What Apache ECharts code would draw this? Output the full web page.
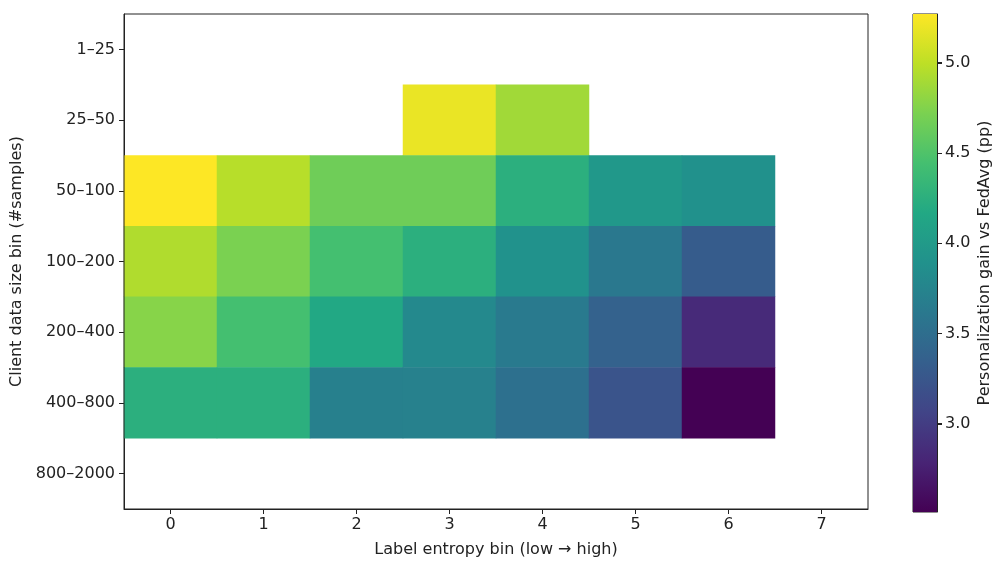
<!DOCTYPE html>
<html>
<head>
<meta charset="utf-8">
<script src="https://cdn.jsdelivr.net/npm/echarts@6/dist/echarts.min.js"></script>
<style>
html,body{margin:0;padding:0;background:#fff;}
#chart{width:994px;height:563px;}
</style>
</head>
<body>
<div id="chart"></div>
<script>
// ---- data ----
var xCategories = ['0', '1', '2', '3', '4', '5', '6', '7'];
var yCategories = ['1–25', '25–50', '50–100', '100–200', '200–400', '400–800', '800–2000'];
// one array per row (top to bottom), null = empty cell
var row_1_25     = [null, null, null, null, null, null, null, null];
var row_25_50    = [null, null, null, 5.19, 4.88, null, null, null];
var row_50_100   = [5.27, 4.97, 4.66, 4.66, 4.25, 3.97, 3.89, null];
var row_100_200  = [4.94, 4.72, 4.44, 4.25, 3.90, 3.61, 3.31, null];
var row_200_400  = [4.77, 4.44, 4.17, 3.80, 3.64, 3.37, 2.84, null];
var row_400_800  = [4.25, 4.25, 3.70, 3.71, 3.53, 3.23, 2.51, null];
var row_800_2000 = [null, null, null, null, null, null, null, null];
var colorMin = 2.51;
var colorMax = 5.27;
var colorbarTicks = [3.0, 3.5, 4.0, 4.5, 5.0];

var rows = [row_1_25, row_25_50, row_50_100, row_100_200, row_200_400, row_400_800, row_800_2000];
var heatData = [];
rows.forEach(function (r, yi) {
  r.forEach(function (v, xi) {
    if (v !== null) heatData.push([xi, yi, v]);
  });
});

var viridis = ['#440154','#482475','#414487','#355f8d','#2a788e','#21918c','#22a884','#44bf70','#7ad151','#bddf26','#fde725'];

var FONT = 'DejaVu Sans';
var TXT = '#222';
var FS = 16;

var chart = echarts.init(document.getElementById('chart'), null, {renderer: 'canvas'});
var option = {
  backgroundColor: '#fff',
  animation: false,
  textStyle: {fontFamily: FONT, color: TXT},
  grid: [
    {left: 124, right: 126, top: 14, bottom: 53, show: true, borderColor: '#222', borderWidth: 1, backgroundColor: 'transparent', z: 5},
    {left: 913, width: 26, top: 14, bottom: 51, show: true, borderColor: '#222', borderWidth: 1}
  ],
  xAxis: [
    {
      type: 'category', gridIndex: 0, data: xCategories,
      name: 'Label entropy bin (low → high)', nameLocation: 'middle', nameGap: 33,
      nameTextStyle: {fontSize: FS, color: TXT, fontFamily: FONT},
      axisLine: {show: true, lineStyle: {color: '#222'}},
      axisTick: {show: true, alignWithLabel: true, length: 5, lineStyle: {color: '#222'}},
      axisLabel: {fontSize: FS, color: TXT, margin: 8, fontFamily: FONT},
      splitLine: {show: false}, splitArea: {show: false}
    },
    {
      type: 'category', gridIndex: 1, data: [''],
      axisLine: {show: false}, axisTick: {show: false}, axisLabel: {show: false}
    }
  ],
  yAxis: [
    {
      type: 'category', gridIndex: 0, data: yCategories, inverse: true,
      name: 'Client data size bin (#samples)', nameLocation: 'middle', nameGap: 98, nameRotate: 90,
      nameTextStyle: {fontSize: FS, color: TXT, fontFamily: FONT},
      axisLine: {show: true, lineStyle: {color: '#222'}},
      axisTick: {show: true, alignWithLabel: true, length: 5, lineStyle: {color: '#222'}},
      axisLabel: {fontSize: FS, color: TXT, margin: 9, fontFamily: FONT},
      splitLine: {show: false}, splitArea: {show: false}
    },
    {
      type: 'value', gridIndex: 1, position: 'right', min: colorMin, max: colorMax,
      name: 'Personalization gain vs FedAvg (pp)', nameLocation: 'middle', nameGap: 40, nameRotate: 90,
      nameTextStyle: {fontSize: FS, color: TXT, fontFamily: FONT},
      axisLine: {show: true, lineStyle: {color: '#222'}},
      axisTick: {show: true, length: 5, inside: false, customValues: colorbarTicks, lineStyle: {color: '#222', width: 1}},
      axisLabel: {fontSize: FS, color: TXT, margin: 8, fontFamily: FONT, customValues: colorbarTicks,
        formatter: function (v) { return Number(v).toFixed(1); }},
      splitLine: {show: false}
    }
  ],
  visualMap: {
    type: 'continuous', show: false, seriesIndex: 0,
    min: colorMin, max: colorMax,
    inRange: {color: viridis}
  },
  series: [
    {
      type: 'heatmap', xAxisIndex: 0, yAxisIndex: 0, data: heatData,
      itemStyle: {borderWidth: 0},
      emphasis: {disabled: true}
    },
    {
      type: 'custom', xAxisIndex: 1, yAxisIndex: 1, clip: false,
      data: [[0, colorMin, colorMax]],
      renderItem: function (params, api) {
        var p1 = api.coord([api.value(0), api.value(1)]);
        var p2 = api.coord([api.value(0), api.value(2)]);
        var w = api.size([1, 0])[0];
        var stops = viridis.map(function (c, i) { return {offset: i / (viridis.length - 1), color: c}; });
        var right = p1[0] + w / 2;
        var children = [{
          type: 'rect',
          shape: {x: p1[0] - w / 2, y: p2[1], width: w, height: p1[1] - p2[1]},
          style: {fill: new echarts.graphic.LinearGradient(0, 1, 0, 0, stops)}
        }];
        colorbarTicks.forEach(function (t) {
          var p = api.coord([api.value(0), t]);
          var y = Math.round(p[1]) + 0.5;
          children.push({
            type: 'line',
            shape: {x1: right, y1: y, x2: right + 5, y2: y},
            style: {stroke: '#222', lineWidth: 1}
          });
        });
        return {type: 'group', children: children};
      },
      silent: true
    }
  ]
};
chart.setOption(option);
</script>
</body>
</html>
